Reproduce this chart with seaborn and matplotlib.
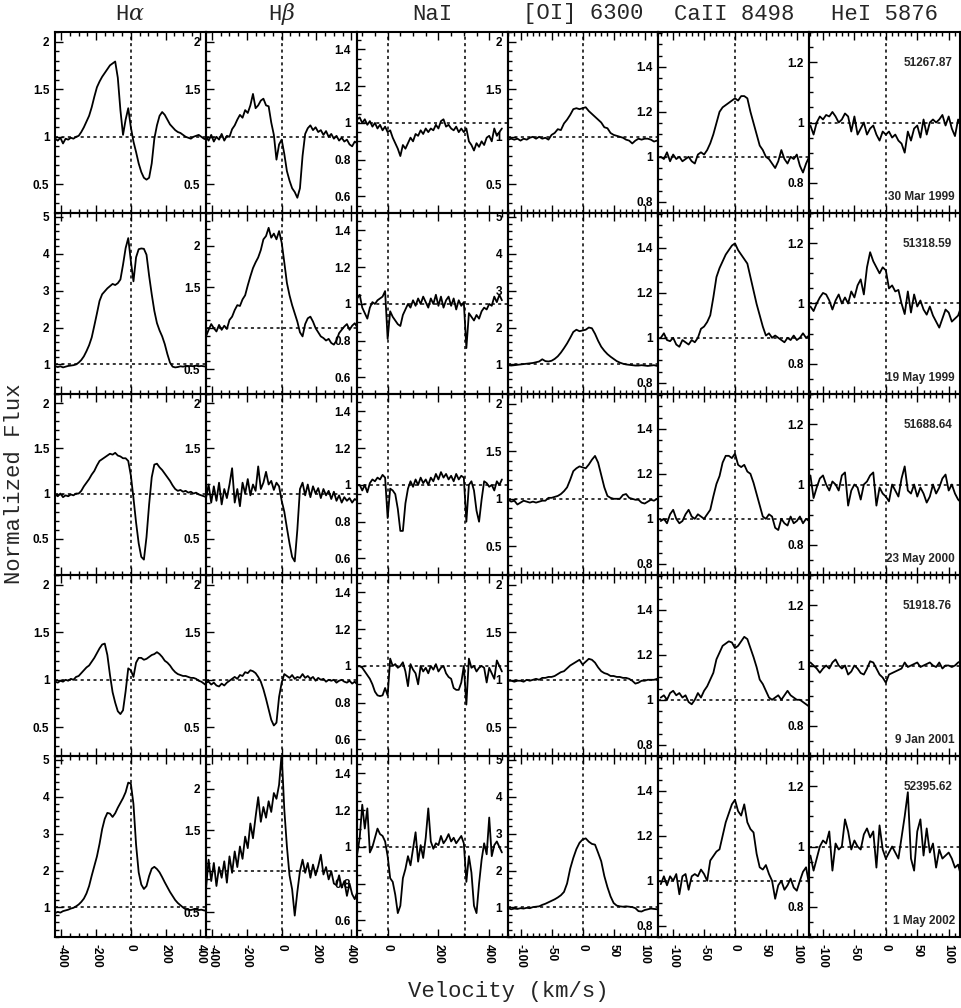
import numpy as np
import pandas as pd
import matplotlib
matplotlib.use("Agg")
import matplotlib.pyplot as plt
from matplotlib.ticker import MultipleLocator, FuncFormatter
import seaborn as sns

# ------------------------------------------------
# velocity grids (km/s) for each line
# ------------------------------------------------
v_balmer = np.arange(-435, 436, 15)     # H alpha, H beta
v_sodium = np.arange(-120, 451, 10)     # NaI D
v_narrow = np.arange(-120, 121, 5)      # [OI], CaII, HeI
na_d1_offset = 304                      # second NaI component

titles = [r"H$\alpha$", r"H$\beta$", "NaI", "[OI] 6300", "CaII 8498", "HeI 5876"]
mjd = ["51267.87", "51318.59", "51688.64", "51918.76", "52395.62"]
dates = ["30 Mar 1999", "19 May 1999", "23 May 2000", "9 Jan 2001", "1 May 2002"]

# ------------------------------------------------
# epoch 1 : 30 Mar 1999
# ------------------------------------------------
ha_1 = [0.98, 0.96, 0.99, 0.93, 0.98, 0.97, 0.99, 0.98, 1.00, 1.01,
        1.05, 1.10, 1.16, 1.22, 1.31, 1.42, 1.52, 1.58, 1.63, 1.67,
        1.71, 1.75, 1.77, 1.79, 1.62, 1.28, 1.02, 1.18, 1.30, 1.10,
        0.95, 0.84, 0.72, 0.63, 0.57, 0.55, 0.57, 0.72, 0.98, 1.12,
        1.22, 1.26, 1.23, 1.18, 1.13, 1.10, 1.07, 1.05, 1.04, 1.02,
        1.00, 0.99, 0.98, 1.00, 1.01, 1.02, 1.00, 0.98, 0.97]
hb_1 = [1.00, 0.96, 1.02, 0.95, 1.00, 0.97, 1.03, 0.96, 1.01, 1.00,
        1.08, 1.12, 1.18, 1.23, 1.20, 1.28, 1.25, 1.33, 1.45, 1.30,
        1.33, 1.38, 1.40, 1.33, 1.32, 1.15, 1.02, 0.76, 0.92, 0.97,
        0.82, 0.64, 0.54, 0.46, 0.42, 0.36, 0.46, 0.80, 1.03, 1.09,
        1.12, 1.07, 1.10, 1.05, 1.07, 1.02, 1.06, 1.00, 1.03, 0.98,
        1.01, 0.96, 0.99, 0.95, 0.97, 0.92, 0.90, 0.95, 0.93]
na_1 = [1.02, 1.03, 1.00, 1.02, 0.99, 1.01, 0.98, 1.00, 0.97, 0.99,
        0.96, 0.98, 0.95, 0.96, 0.92, 0.89, 0.86, 0.82, 0.88, 0.86,
        0.89, 0.92, 0.90, 0.94, 0.93, 0.96, 0.94, 0.97, 0.95, 0.97,
        0.96, 0.99, 0.97, 1.01, 1.02, 0.98, 0.99, 0.97, 0.96, 0.98,
        0.95, 0.97, 0.95, 0.97, 0.90, 0.88, 0.85, 0.89, 0.87, 0.90,
        0.88, 0.92, 0.93, 0.90, 0.97, 0.93, 0.95, 0.97]
oi_1 = [0.97, 0.98, 0.97, 0.98, 0.96, 0.98, 0.97, 0.99, 1.00, 0.98,
        1.00, 0.98, 0.99, 0.97, 1.02, 1.04, 1.08, 1.07, 1.14, 1.18,
        1.23, 1.29, 1.30, 1.29, 1.30, 1.31, 1.27, 1.24, 1.21, 1.18,
        1.15, 1.10, 1.09, 1.04, 1.02, 1.01, 1.00, 0.99, 0.97, 0.96,
        0.93, 0.96, 0.98, 0.97, 0.98, 0.98, 0.97, 0.95, 0.96]
ca_1 = [1.00, 0.99, 1.02, 0.98, 1.01, 0.99, 1.00, 0.98, 0.99, 1.00,
        0.98, 0.97, 1.01, 1.02, 1.01, 1.03, 1.06, 1.10, 1.15, 1.20,
        1.22, 1.23, 1.24, 1.25, 1.26, 1.25, 1.27, 1.27, 1.26, 1.20,
        1.15, 1.10, 1.05, 1.03, 1.00, 0.99, 0.97, 0.95, 0.98, 1.03,
        0.99, 0.97, 1.00, 0.99, 1.01, 0.96, 0.93, 0.97, 1.00]
he_1 = [0.99, 0.96, 1.00, 1.02, 1.01, 1.025, 1.02, 1.035, 1.02, 1.00,
        1.01, 1.03, 1.02, 0.97, 1.02, 0.96, 0.98, 1.00, 0.96, 0.98,
        0.99, 0.96, 0.94, 0.97, 0.96, 0.97, 0.95, 0.96, 0.94, 0.93,
        0.90, 0.97, 0.94, 0.98, 0.99, 0.95, 1.01, 0.96, 1.00, 1.01,
        1.00, 1.01, 1.025, 0.99, 1.02, 0.98, 0.955, 1.01, 0.99]

# ------------------------------------------------
# epoch 2 : 19 May 1999
# ------------------------------------------------
ha_2 = [0.95, 0.93, 0.95, 0.92, 0.94, 0.96, 0.97, 0.98, 1.00, 1.05,
        1.12, 1.22, 1.36, 1.52, 1.73, 2.05, 2.38, 2.72, 2.90, 2.98,
        3.06, 3.12, 3.18, 3.15, 3.20, 3.30, 3.70, 4.15, 4.42, 3.80,
        3.25, 3.90, 4.12, 4.14, 4.13, 3.97, 3.40, 2.90, 2.45, 2.12,
        1.92, 1.76, 1.55, 1.28, 1.05, 0.94, 0.92, 0.93, 0.95, 0.94,
        0.96, 0.95, 0.96, 0.95, 0.97, 0.95, 0.96, 0.95, 0.94]
hb_2 = [0.90, 0.98, 1.05, 1.00, 0.96, 1.04, 0.98, 1.03, 0.99, 1.10,
        1.14, 1.22, 1.28, 1.27, 1.35, 1.40, 1.52, 1.63, 1.73, 1.80,
        1.86, 1.95, 2.08, 2.12, 2.22, 2.10, 2.15, 2.08, 2.18, 2.04,
        1.80, 1.55, 1.40, 1.28, 1.18, 1.08, 0.95, 0.90, 1.05, 1.12,
        1.14, 1.08, 1.00, 0.95, 0.90, 0.88, 0.85, 0.87, 0.82, 0.80,
        0.85, 0.94, 0.98, 1.02, 1.05, 0.98, 1.03, 1.06, 1.01]
na_2 = [1.03, 1.05, 0.98, 0.95, 0.92, 0.98, 1.01, 1.00, 1.02, 1.03,
        1.04, 1.07, 0.81, 0.96, 0.93, 0.91, 0.89, 0.88, 0.94, 0.97,
        1.00, 0.98, 1.02, 0.99, 1.03, 1.00, 1.04, 1.01, 0.98, 1.03,
        1.00, 1.05, 0.99, 1.04, 0.98, 1.02, 1.04, 0.99, 1.03, 0.97,
        1.02, 0.99, 1.01, 0.76, 0.95, 0.93, 0.91, 0.94, 0.92, 0.96,
        0.98, 0.97, 1.00, 0.99, 1.04, 1.01, 1.05, 1.02]
oi_2 = [0.98, 0.97, 0.98, 0.99, 1.00, 1.01, 1.02, 1.03, 1.04, 1.06,
        1.08, 1.14, 1.09, 1.08, 1.10, 1.15, 1.22, 1.32, 1.44, 1.57,
        1.72, 1.88, 1.94, 1.90, 1.92, 1.94, 2.00, 1.98, 1.83, 1.64,
        1.48, 1.37, 1.28, 1.21, 1.15, 1.09, 1.05, 1.02, 1.00, 0.99,
        0.98, 0.97, 0.97, 0.98, 0.97, 0.96, 0.97, 0.98, 0.96]
ca_2 = [1.00, 1.02, 0.99, 0.985, 1.00, 0.97, 0.96, 0.99, 0.98, 0.97,
        0.99, 0.98, 1.00, 1.04, 1.05, 1.07, 1.10, 1.18, 1.27, 1.31,
        1.34, 1.37, 1.39, 1.41, 1.42, 1.39, 1.37, 1.35, 1.33, 1.27,
        1.21, 1.15, 1.10, 1.05, 1.01, 1.02, 1.00, 1.01, 1.00, 0.99,
        0.98, 1.00, 0.99, 1.01, 0.99, 1.00, 1.02, 1.00, 1.01]
he_2 = [0.99, 0.975, 1.00, 1.02, 1.035, 1.03, 1.01, 0.98, 1.01, 1.03,
        1.00, 1.02, 1.00, 1.04, 1.02, 1.06, 1.08, 1.03, 1.12, 1.17,
        1.14, 1.12, 1.10, 1.12, 1.11, 1.05, 1.06, 1.04, 1.045, 1.00,
        0.965, 1.04, 0.97, 1.03, 0.99, 1.01, 0.98, 0.963, 0.99, 0.96,
        0.94, 0.92, 0.95, 0.98, 0.97, 0.94, 0.95, 0.96, 0.99]

# ------------------------------------------------
# epoch 3 : 23 May 2000
# ------------------------------------------------
ha_3 = [0.99, 0.97, 1.00, 0.96, 0.98, 0.97, 0.99, 0.98, 1.00, 1.00,
        1.03, 1.08, 1.12, 1.16, 1.21, 1.25, 1.31, 1.36, 1.38, 1.40,
        1.42, 1.44, 1.43, 1.45, 1.42, 1.41, 1.39, 1.39, 1.36, 1.20,
        0.95, 0.68, 0.45, 0.30, 0.27, 0.52, 0.88, 1.18, 1.32, 1.33,
        1.29, 1.26, 1.22, 1.18, 1.14, 1.09, 1.05, 1.03, 1.04, 1.02,
        1.03, 1.01, 1.02, 1.00, 1.01, 0.99, 0.98, 0.97, 0.96]
hb_3 = [0.95, 1.10, 0.90, 1.08, 0.92, 1.12, 0.88, 1.05, 0.95, 1.10,
        1.28, 0.90, 1.05, 0.86, 1.12, 1.00, 1.16, 0.98, 1.10, 1.03,
        1.30, 1.05, 1.12, 1.24, 1.10, 1.14, 1.04, 1.12, 1.08, 0.92,
        0.80, 0.62, 0.45, 0.30, 0.25, 0.60, 1.05, 1.12, 0.98, 1.10,
        0.96, 1.08, 1.00, 1.06, 0.95, 1.05, 0.98, 1.03, 0.94, 1.02,
        0.92, 0.98, 0.90, 0.96, 0.92, 0.95, 0.90, 0.94, 0.92]
na_3 = [1.00, 1.00, 0.97, 1.00, 0.96, 1.01, 1.03, 1.02, 1.04, 1.03,
        1.055, 1.04, 0.82, 0.98, 0.97, 0.95, 0.87, 0.75, 0.75, 0.90,
        0.98, 1.02, 0.99, 1.03, 1.00, 1.04, 1.01, 1.03, 1.00, 1.04,
        1.02, 1.06, 1.03, 1.07, 1.04, 1.06, 1.03, 1.05, 1.02, 1.06,
        1.03, 1.05, 1.04, 0.80, 1.00, 1.02, 0.97, 0.86, 0.80, 0.92,
        1.02, 1.01, 0.99, 1.00, 0.97, 1.02, 1.00, 1.03]
oi_3 = [0.99, 0.97, 0.98, 0.94, 0.96, 0.98, 0.97, 0.96, 0.97, 0.96,
        0.97, 0.98, 0.98, 1.01, 1.01, 1.02, 1.03, 1.05, 1.08, 1.12,
        1.20, 1.29, 1.32, 1.34, 1.33, 1.32, 1.36, 1.41, 1.45, 1.38,
        1.25, 1.12, 1.03, 1.01, 1.00, 1.00, 1.00, 1.04, 1.05, 1.01,
        1.00, 0.99, 0.99, 0.96, 0.95, 0.97, 0.99, 0.98, 1.00]
ca_3 = [0.99, 1.00, 0.98, 1.02, 1.04, 1.00, 0.98, 0.99, 1.02, 1.04,
        1.01, 1.00, 1.02, 1.01, 1.00, 1.02, 1.04, 1.10, 1.155, 1.19,
        1.25, 1.28, 1.28, 1.27, 1.29, 1.24, 1.23, 1.24, 1.21, 1.20,
        1.16, 1.11, 1.06, 1.01, 1.00, 1.02, 1.01, 0.96, 0.95, 1.00,
        0.98, 0.97, 1.01, 0.98, 0.99, 1.01, 0.98, 1.00, 0.99]
he_3 = [1.03, 0.955, 0.99, 1.02, 1.03, 1.00, 0.98, 1.01, 1.00, 0.98,
        1.03, 1.04, 0.93, 0.98, 1.00, 0.99, 0.95, 1.00, 1.01, 1.03,
        1.04, 0.93, 0.99, 0.97, 0.96, 0.944, 1.00, 0.98, 0.96, 1.02,
        1.06, 0.98, 0.97, 1.00, 0.96, 0.99, 0.97, 0.94, 0.96, 1.00,
        0.97, 0.99, 1.02, 1.033, 0.98, 1.00, 0.97, 0.95, 0.94]

# ------------------------------------------------
# epoch 4 : 9 Jan 2001
# ------------------------------------------------
ha_4 = [0.98, 0.97, 0.99, 0.98, 1.00, 0.99, 1.01, 1.00, 1.03, 1.04,
        1.07, 1.10, 1.13, 1.15, 1.19, 1.23, 1.28, 1.33, 1.37, 1.38,
        1.26, 1.05, 0.87, 0.76, 0.67, 0.64, 0.68, 0.88, 1.12, 1.10,
        1.03, 1.18, 1.23, 1.23, 1.21, 1.22, 1.24, 1.26, 1.27, 1.29,
        1.27, 1.24, 1.20, 1.18, 1.15, 1.11, 1.08, 1.06, 1.05, 1.04,
        1.04, 1.03, 1.02, 1.02, 1.01, 0.99, 0.98, 0.96, 0.94]
hb_4 = [0.97, 0.98, 0.95, 0.97, 0.94, 0.93, 0.96, 0.94, 0.97, 0.99,
        1.01, 1.03, 1.01, 1.05, 1.04, 1.08, 1.07, 1.10, 1.09, 1.07,
        1.03, 0.98, 0.90, 0.80, 0.69, 0.58, 0.52, 0.55, 0.82, 0.97,
        1.06, 1.04, 1.02, 1.05, 1.01, 1.03, 1.02, 1.06, 1.02, 1.04,
        1.01, 1.03, 0.99, 1.02, 1.00, 1.01, 0.98, 1.00, 0.99, 1.00,
        0.97, 0.99, 1.00, 0.98, 0.97, 0.99, 0.96, 0.98, 0.95]
na_4 = [1.00, 1.00, 0.99, 0.97, 0.95, 0.93, 0.90, 0.86, 0.84, 0.836,
        0.84, 0.88, 0.84, 1.04, 1.00, 1.01, 0.99, 1.00, 1.02, 0.97,
        0.89, 1.01, 0.98, 0.96, 0.90, 1.00, 0.97, 0.99, 0.96, 1.00,
        0.98, 1.01, 0.97, 0.99, 1.00, 0.96, 0.94, 0.93, 0.88, 0.87,
        0.87, 0.91, 1.00, 0.79, 1.04, 0.99, 1.00, 0.97, 0.99, 1.00,
        0.99, 0.91, 0.99, 0.96, 0.93, 1.03, 1.00, 0.97]
oi_4 = [0.99, 0.99, 0.98, 0.99, 0.99, 0.98, 1.00, 0.99, 1.00, 1.01,
        1.00, 1.02, 1.02, 1.03, 1.03, 1.04, 1.06, 1.08, 1.09, 1.12,
        1.15, 1.17, 1.19, 1.21, 1.16, 1.19, 1.22, 1.21, 1.18, 1.13,
        1.09, 1.07, 1.06, 1.04, 1.04, 1.03, 1.03, 1.02, 1.02, 1.01,
        0.99, 0.96, 0.97, 0.99, 0.99, 1.00, 1.00, 1.00, 1.01]
ca_4 = [1.01, 1.02, 1.00, 1.03, 1.04, 1.02, 1.03, 1.01, 1.02, 0.99,
        0.98, 1.00, 1.03, 1.01, 1.04, 1.06, 1.09, 1.12, 1.18, 1.21,
        1.24, 1.25, 1.26, 1.255, 1.23, 1.24, 1.26, 1.28, 1.27, 1.23,
        1.19, 1.145, 1.09, 1.07, 1.04, 1.01, 1.00, 1.01, 1.02, 1.00,
        1.02, 1.04, 1.02, 1.01, 1.00, 1.00, 0.99, 0.98, 0.97]
he_4 = [1.01, 1.00, 0.99, 0.976, 0.99, 1.00, 0.99, 1.01, 1.02, 1.00,
        0.99, 1.00, 0.97, 0.98, 1.00, 0.99, 0.975, 0.97, 0.99, 1.014,
        1.01, 0.99, 0.97, 0.96, 0.943, 0.97, 0.975, 0.98, 0.985, 0.99,
        1.01, 0.995, 1.00, 1.005, 1.01, 0.995, 1.00, 1.005, 1.01, 1.00,
        0.995, 1.01, 0.99, 1.00, 1.00, 0.995, 1.00, 1.01, 1.015]

# ------------------------------------------------
# epoch 5 : 1 May 2002
# ------------------------------------------------
ha_5 = [0.85, 0.88, 0.86, 0.90, 0.92, 0.94, 0.97, 0.99, 1.03, 1.08,
        1.15, 1.24, 1.38, 1.58, 1.86, 2.12, 2.38, 2.72, 3.12, 3.40,
        3.56, 3.54, 3.45, 3.55, 3.70, 3.83, 3.96, 4.12, 4.38, 4.35,
        3.80, 2.70, 1.95, 1.62, 1.50, 1.58, 1.85, 2.05, 2.10, 2.04,
        1.95, 1.82, 1.68, 1.55, 1.42, 1.31, 1.20, 1.12, 1.06, 1.00,
        0.95, 0.94, 0.93, 0.95, 0.94, 0.93, 0.94, 0.92, 0.91]
hb_5 = [0.79, 1.14, 0.88, 1.10, 0.82, 1.05, 0.92, 1.12, 0.86, 1.18,
        0.98, 1.24, 1.05, 1.30, 1.15, 1.42, 1.28, 1.58, 1.40, 1.66,
        1.90, 1.60, 1.78, 1.65, 1.85, 1.72, 1.95, 1.88, 2.05, 2.43,
        1.75, 1.30, 0.95, 0.78, 0.46, 0.75, 1.00, 1.14, 0.98, 1.10,
        0.92, 1.08, 0.95, 1.06, 1.20, 0.96, 1.05, 0.90, 1.00, 0.85,
        0.83, 0.95, 0.80, 0.88, 0.70, 0.85, 0.72, 0.66, 0.75]
na_5 = [0.96, 1.05, 1.23, 1.10, 1.21, 0.97, 1.00, 1.05, 1.10, 1.07,
        1.06, 1.03, 0.95, 0.83, 0.81, 0.74, 0.64, 0.68, 0.83, 0.88,
        0.95, 0.90, 0.99, 1.08, 0.92, 1.01, 0.94, 1.05, 1.21, 1.03,
        0.99, 1.02, 1.01, 1.06, 1.02, 1.04, 1.07, 1.03, 1.05, 1.02,
        1.04, 1.06, 1.02, 0.81, 0.95, 0.86, 0.68, 0.64, 0.80, 0.93,
        1.02, 0.96, 1.16, 0.95, 1.01, 1.03, 1.00, 0.97]
oi_5 = [0.98, 0.95, 0.97, 0.96, 0.98, 0.97, 0.99, 0.98, 1.01, 1.02,
        1.03, 1.07, 1.10, 1.14, 1.18, 1.22, 1.27, 1.33, 1.42, 1.65,
        2.05, 2.34, 2.58, 2.75, 2.84, 2.87, 2.78, 2.72, 2.70, 2.48,
        2.25, 1.85, 1.55, 1.30, 1.12, 1.05, 1.03, 1.02, 1.03, 1.02,
        1.01, 0.98, 0.90, 0.89, 0.93, 0.95, 0.97, 0.96, 0.95]
ca_5 = [0.985, 1.02, 0.98, 1.02, 1.00, 1.03, 0.94, 1.02, 1.03, 0.96,
        1.02, 1.03, 1.02, 1.05, 1.03, 1.00, 1.09, 1.11, 1.13, 1.14,
        1.20, 1.26, 1.30, 1.34, 1.36, 1.31, 1.29, 1.34, 1.26, 1.23,
        1.215, 1.12, 1.06, 1.05, 1.07, 1.03, 1.00, 0.92, 0.98, 1.00,
        0.96, 0.98, 1.01, 0.97, 0.956, 1.00, 1.04, 1.06, 0.98]
he_5 = [0.97, 0.92, 0.96, 1.00, 1.02, 1.01, 1.05, 0.92, 1.01, 0.99,
        1.00, 1.09, 1.05, 0.99, 1.02, 1.00, 0.99, 1.04, 1.06, 1.03,
        1.05, 0.93, 1.07, 0.99, 0.96, 0.98, 1.00, 0.98, 0.96, 1.03,
        1.10, 1.18, 0.96, 0.92, 1.05, 1.09, 0.97, 1.06, 0.98, 1.01,
        0.93, 0.99, 0.96, 0.97, 0.98, 0.96, 0.93, 0.94, 0.90]

profiles = [
    [ha_1, hb_1, na_1, oi_1, ca_1, he_1],
    [ha_2, hb_2, na_2, oi_2, ca_2, he_2],
    [ha_3, hb_3, na_3, oi_3, ca_3, he_3],
    [ha_4, hb_4, na_4, oi_4, ca_4, he_4],
    [ha_5, hb_5, na_5, oi_5, ca_5, he_5],
]
grids = [v_balmer, v_balmer, v_sodium, v_narrow, v_narrow, v_narrow]

# axis limits
xlims = [(-436, 431), (-436, 431), (-122, 472), (-121, 122), (-124, 120), (-122, 118)]
ylims = [
    [(0.2, 2.1), (0.2, 2.1), (0.51, 1.495), (0.2, 2.1), (0.75, 1.555), (0.7, 1.3)],
    [(0.2, 5.1), (0.2, 2.4), (0.51, 1.495), (0.2, 5.1), (0.75, 1.555), (0.7, 1.3)],
    [(0.1, 2.1), (0.1, 2.1), (0.51, 1.495), (0.2, 2.1), (0.75, 1.555), (0.7, 1.3)],
    [(0.2, 2.1), (0.2, 2.1), (0.51, 1.495), (0.2, 2.1), (0.75, 1.555), (0.7, 1.3)],
    [(0.2, 5.1), (0.2, 2.4), (0.51, 1.495), (0.2, 5.1), (0.75, 1.555), (0.7, 1.3)],
]
xmajor = [200, 200, 200, 50, 50, 50]
xminor = [50, 50, 50, 10, 10, 10]

# ------------------------------------------------
# style
# ------------------------------------------------
sns.set_theme(style="ticks")
plt.rcParams["font.family"] = ["Liberation Sans", "DejaVu Sans"]
plt.rcParams["axes.unicode_minus"] = False
plt.rcParams["mathtext.fontset"] = "dejavuserif"

W, H = 962, 1008
left_px, right_px, top_px = 55, 960, 32
pw = (right_px - left_px) / 6
ph = 181
dots = (0, (2, 2.2))
label_font = ["Liberation Mono", "DejaVu Sans Mono"]

fig = plt.figure(figsize=(W / 100, H / 100), dpi=100)
axes = []

for r in range(5):
    for c in range(6):
        ax = fig.add_axes([(left_px + c * pw) / W, 1 - (top_px + (r + 1) * ph) / H,
                           pw / W, ph / H])
        axes.append(ax)
        ax.patch.set_alpha(0)
        flux = profiles[r][c]
        g = grids[c]
        df = pd.DataFrame({"velocity": np.linspace(g[0], g[-1], len(flux)),
                           "flux": flux})
        sns.lineplot(data=df, x="velocity", y="flux", ax=ax, color="black",
                     linewidth=1.3, estimator=None, sort=False)
        ax.axhline(1, color="black", lw=1.1, ls=dots)
        ax.axvline(0, color="black", lw=1.1, ls=dots)
        if c == 2:
            ax.axvline(na_d1_offset, color="black", lw=1.1, ls=dots)

        ax.set_xlim(xlims[c])
        lo, hi = ylims[r][c]
        ax.set_ylim(lo, hi)
        ax.set_xlabel("")
        ax.set_ylabel("")

        if hi > 4:
            ymaj, ymin = 1, 0.2
        elif hi > 1.9:
            ymaj, ymin = 0.5, 0.1
        else:
            ymaj, ymin = 0.2, 0.05
        ax.yaxis.set_major_locator(MultipleLocator(ymaj))
        ax.yaxis.set_minor_locator(MultipleLocator(ymin))
        ax.yaxis.set_major_formatter(FuncFormatter(
            lambda val, pos, c=c: "" if (c == 1 and abs(val - 1) < 1e-6) else f"{val:g}"))
        ax.xaxis.set_major_locator(MultipleLocator(xmajor[c]))
        ax.xaxis.set_minor_locator(MultipleLocator(xminor[c]))
        ax.xaxis.set_major_formatter(FuncFormatter(lambda val, pos: f"{int(round(val))}"))

        ax.tick_params(which="both", direction="in", top=True, bottom=True,
                       left=True, right=False, labelbottom=(r == 4),
                       labelleft=True, width=1.0, color="black")
        ax.tick_params(which="major", length=6)
        ax.tick_params(which="minor", length=3)
        ax.tick_params(axis="y", pad=4, labelsize=8.5, labelcolor="black")
        ax.tick_params(axis="x", pad=5, labelsize=8.5, labelcolor="black",
                       labelrotation=-90)
        for sp in ax.spines.values():
            sp.set_linewidth(1.5)
            sp.set_color("black")

        if c == 5:
            ax.text(0.947, 0.831, mjd[r], transform=ax.transAxes, ha="right",
                    va="center", fontsize=8.5, fontweight="bold")
            ax.text(0.967, 0.086, dates[r], transform=ax.transAxes, ha="right",
                    va="center", fontsize=8.5, fontweight="bold")

for c, t in enumerate(titles):
    fig.text((left_px + (c + 0.5) * pw) / W, 1 - 14 / H, t, ha="center",
             va="center", fontsize=16, family=label_font)

fig.text(508 / W, 1 - 991 / H, "Velocity (km/s)", ha="center", va="center",
         fontsize=16, family=label_font)
fig.text(15 / W, 1 - 484 / H, "Normalized Flux", ha="center", va="center",
         rotation=90, fontsize=16, family=label_font)

# bold tick numbers (set after a first draw so every tick label exists)
fig.canvas.draw()
for ax in axes:
    for lab in ax.get_xticklabels() + ax.get_yticklabels():
        lab.set_fontweight("bold")

fig.savefig("out.png", dpi=100)
